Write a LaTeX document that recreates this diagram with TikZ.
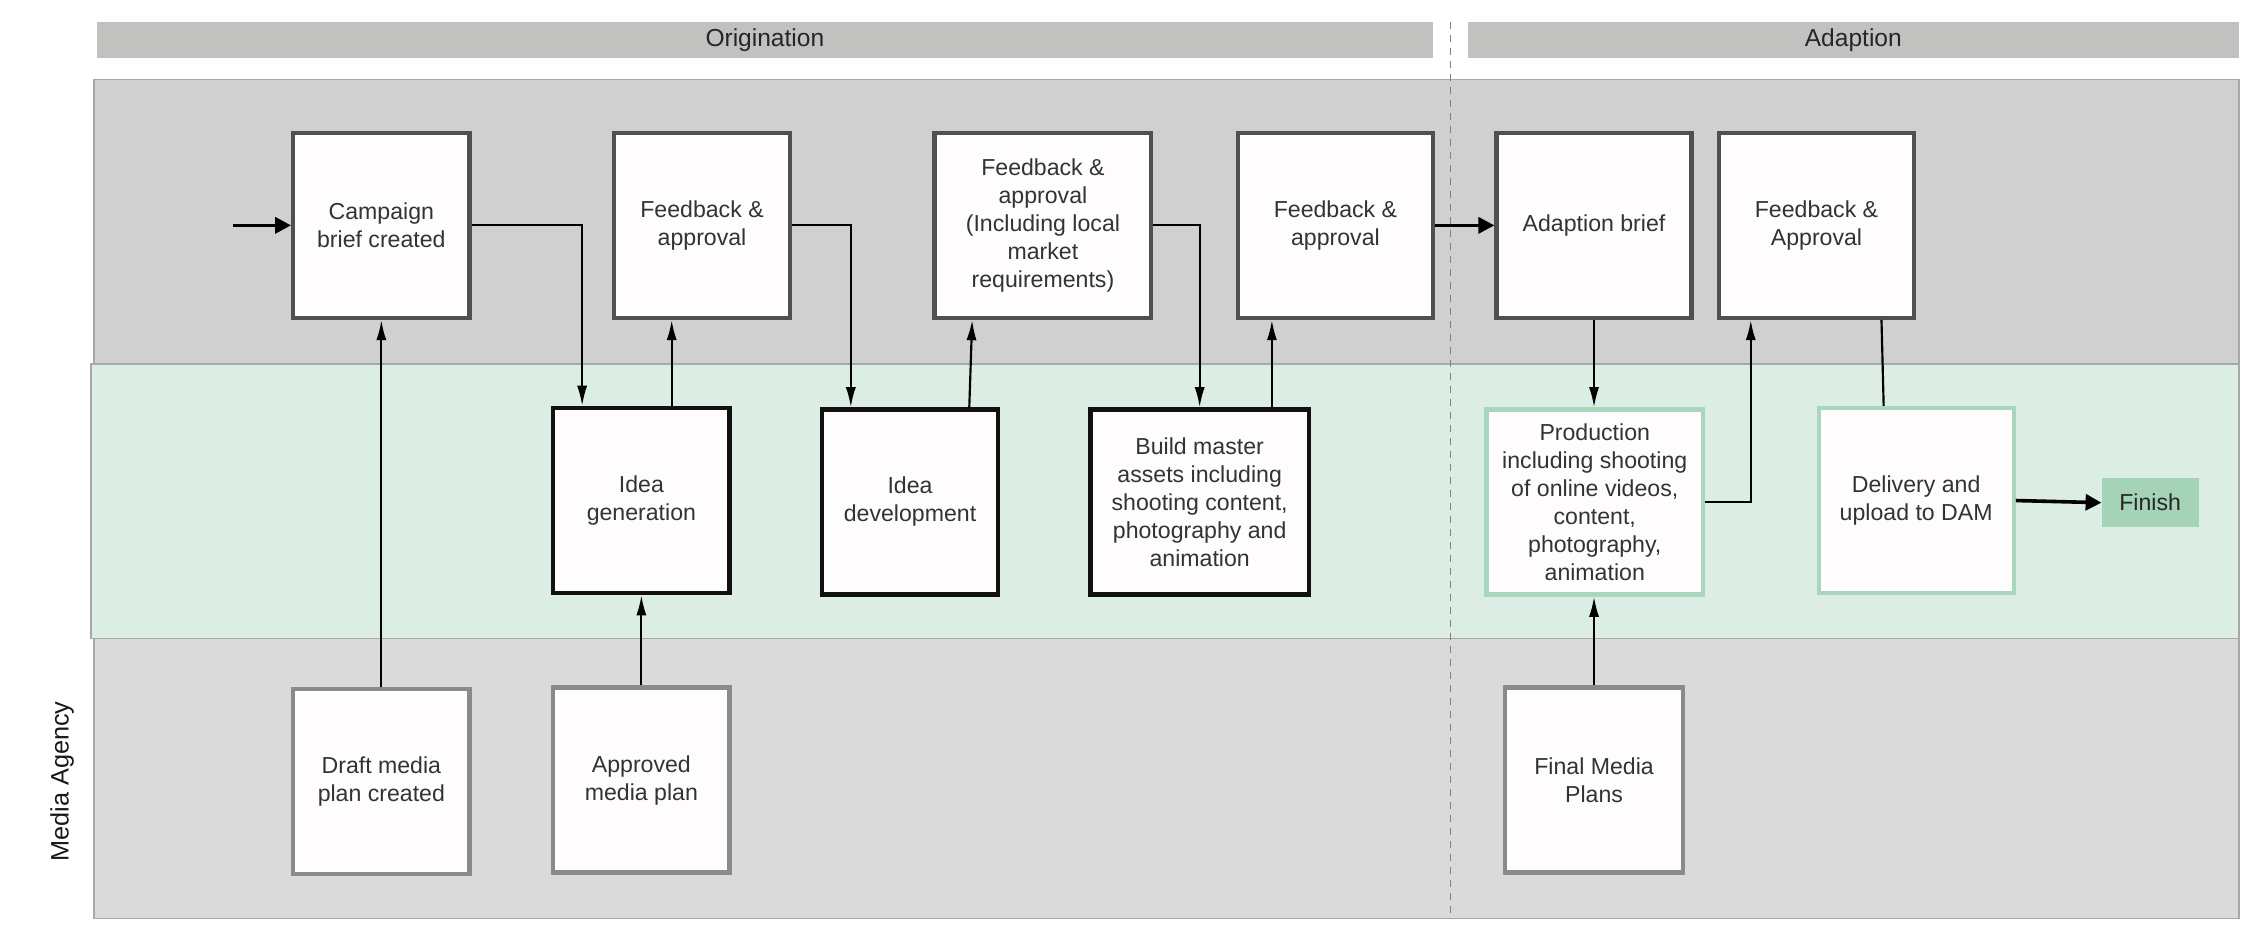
\documentclass[tikz,border=0pt]{standalone}
\usepackage{fontspec}
\setmainfont{Liberation Sans}
\usetikzlibrary{arrows.meta,calc}
\definecolor{hdrfill}{HTML}{C1C1C0}
\definecolor{toplane}{HTML}{D0D0D0}
\definecolor{midlane}{HTML}{DCEDE3}
\definecolor{botlane}{HTML}{DADADA}
\definecolor{laneborder}{HTML}{A8A8A8}
\definecolor{dashcol}{HTML}{808080}
\definecolor{topborder}{HTML}{505050}
\definecolor{midborder}{HTML}{111111}
\definecolor{greenborder}{HTML}{A9D6BD}
\definecolor{botborder}{HTML}{8A8A8A}
\definecolor{finishfill}{HTML}{A5D3B8}
\definecolor{boxfill}{HTML}{FEFCFD}
\definecolor{txt}{HTML}{333333}
\tikzset{
  lanebox/.style={draw=laneborder, line width=1pt},
  hdr/.style={fill=hdrfill, draw=none, inner sep=0pt, font=\fontsize{17}{20}\selectfont, text=black!85},
  procbox/.style={rectangle, fill=boxfill, line width=3pt, align=center, inner sep=2pt,
     font=\fontsize{16}{19.4}\selectfont, text=txt, minimum height=128pt},
  topbox/.style={procbox, draw=topborder},
  midbox/.style={procbox, draw=midborder},
  greenbox/.style={procbox, draw=greenborder},
  botbox/.style={procbox, draw=botborder},
  conn/.style={line width=1.5pt, -{Latex[length=14pt,width=7pt]}},
  plainconn/.style={line width=1.5pt},
  bigconn/.style={line width=2.5pt, -{Triangle[length=11pt,width=11pt]}},
}
\begin{document}
\begin{tikzpicture}[x=1pt,y=-1pt]
\useasboundingbox (0,0) rectangle (1568,654);
% header bars
\node[hdr, minimum width=925pt, minimum height=25pt] (hdrorig) at (529.5,27.5) {Origination};
\node[hdr, minimum width=534pt, minimum height=25pt] (hdradapt) at (1283,27.5) {Adaption};
% lanes
\fill[toplane] (65,55) rectangle (1550,252);
\draw[lanebox] (65,55) rectangle (1550,252);
\fill[botlane] (65,442) rectangle (1550,636);
\draw[lanebox] (65,442) rectangle (1550,636);
\fill[midlane] (63,252) rectangle (1550,442);
\draw[lanebox] (63,252) rectangle (1550,442);
% dashed divider
\draw[dashcol, line width=1pt, dash pattern=on 5pt off 4pt] (1004,15) -- (1004,636);
% lane label
\node[rotate=90, font=\fontsize{17.5}{20}\selectfont, text=black!90] (lanelabel) at (43,541) {Media Agency};
% top row
\node[topbox, minimum width=122pt] (camp) at (264,156) {Campaign\\brief created};
\node[topbox, minimum width=122pt] (fb1) at (486,156) {Feedback \&\\approval};
\node[topbox, minimum width=150pt] (fb2) at (722,156) {Feedback \&\\approval\\(Including local\\market\\requirements)};
\node[topbox, minimum width=135pt] (fb3) at (924.5,156) {Feedback \&\\approval};
\node[topbox, minimum width=135pt] (adapt) at (1103.5,156) {Adaption brief};
\node[topbox, minimum width=135pt] (fba) at (1257.5,156) {Feedback \&\\Approval};
% middle row
\node[midbox, minimum width=122pt] (ideagen) at (444,346.5) {Idea\\generation};
\node[midbox, minimum width=122pt] (ideadev) at (630,347.5) {Idea\\development};
\node[midbox, minimum width=151pt] (build) at (830.5,347.5) {Build master\\assets including\\shooting content,\\photography and\\animation};
\node[greenbox, minimum width=150pt] (prod) at (1104,347.5) {Production\\including shooting\\of online videos,\\content,\\photography,\\animation};
\node[greenbox, minimum width=135pt] (deliv) at (1326.5,346.5) {Delivery and\\upload to DAM};
\node[rectangle, fill=finishfill, minimum width=67pt, minimum height=34pt, inner sep=0pt,
      font=\fontsize{16}{19}\selectfont, text=black!85] (finish) at (1488.5,348) {Finish};
% bottom row
\node[botbox, minimum width=122pt] (draft) at (264,541) {Draft media\\plan created};
\node[botbox, minimum width=122pt] (approved) at (444,540) {Approved\\media plan};
\node[botbox, minimum width=123pt] (final) at (1103.5,540) {Final Media\\Plans};
% connectors
\coordinate (start) at (161,156);
\draw[bigconn] (start) -- (camp.west);
\draw[conn] (camp.east) -| ([xshift=-41pt]ideagen.north);
\draw[conn] ([xshift=21pt]ideagen.north) -- ([xshift=21pt]ideagen.north |- fb1.south);
\draw[conn] (fb1.east) -| ([xshift=-41pt]ideadev.north);
\draw[conn] ([xshift=41pt]ideadev.north) -- ([xshift=-49pt]fb2.south);
\draw[conn] (fb2.east) -| (build.north);
\draw[conn] ([xshift=50pt]build.north) -- ([xshift=50pt]build.north |- fb3.south);
\draw[bigconn] (fb3.east) -- (adapt.west);
\draw[conn] (adapt.south) -- (adapt.south |- prod.north);
\draw[conn] (prod.east) -| ([xshift=-45.5pt]fba.south);
\draw[plainconn] ([xshift=45pt]fba.south) -- ([xshift=-22.5pt]deliv.north);
\draw[bigconn] (deliv.east) -- (finish.west);
\draw[conn] (draft.north) -- (camp.south);
\draw[conn] (approved.north) -- (ideagen.south);
\draw[conn] (final.north) -- (final.north |- prod.south);
\end{tikzpicture}
\end{document}
